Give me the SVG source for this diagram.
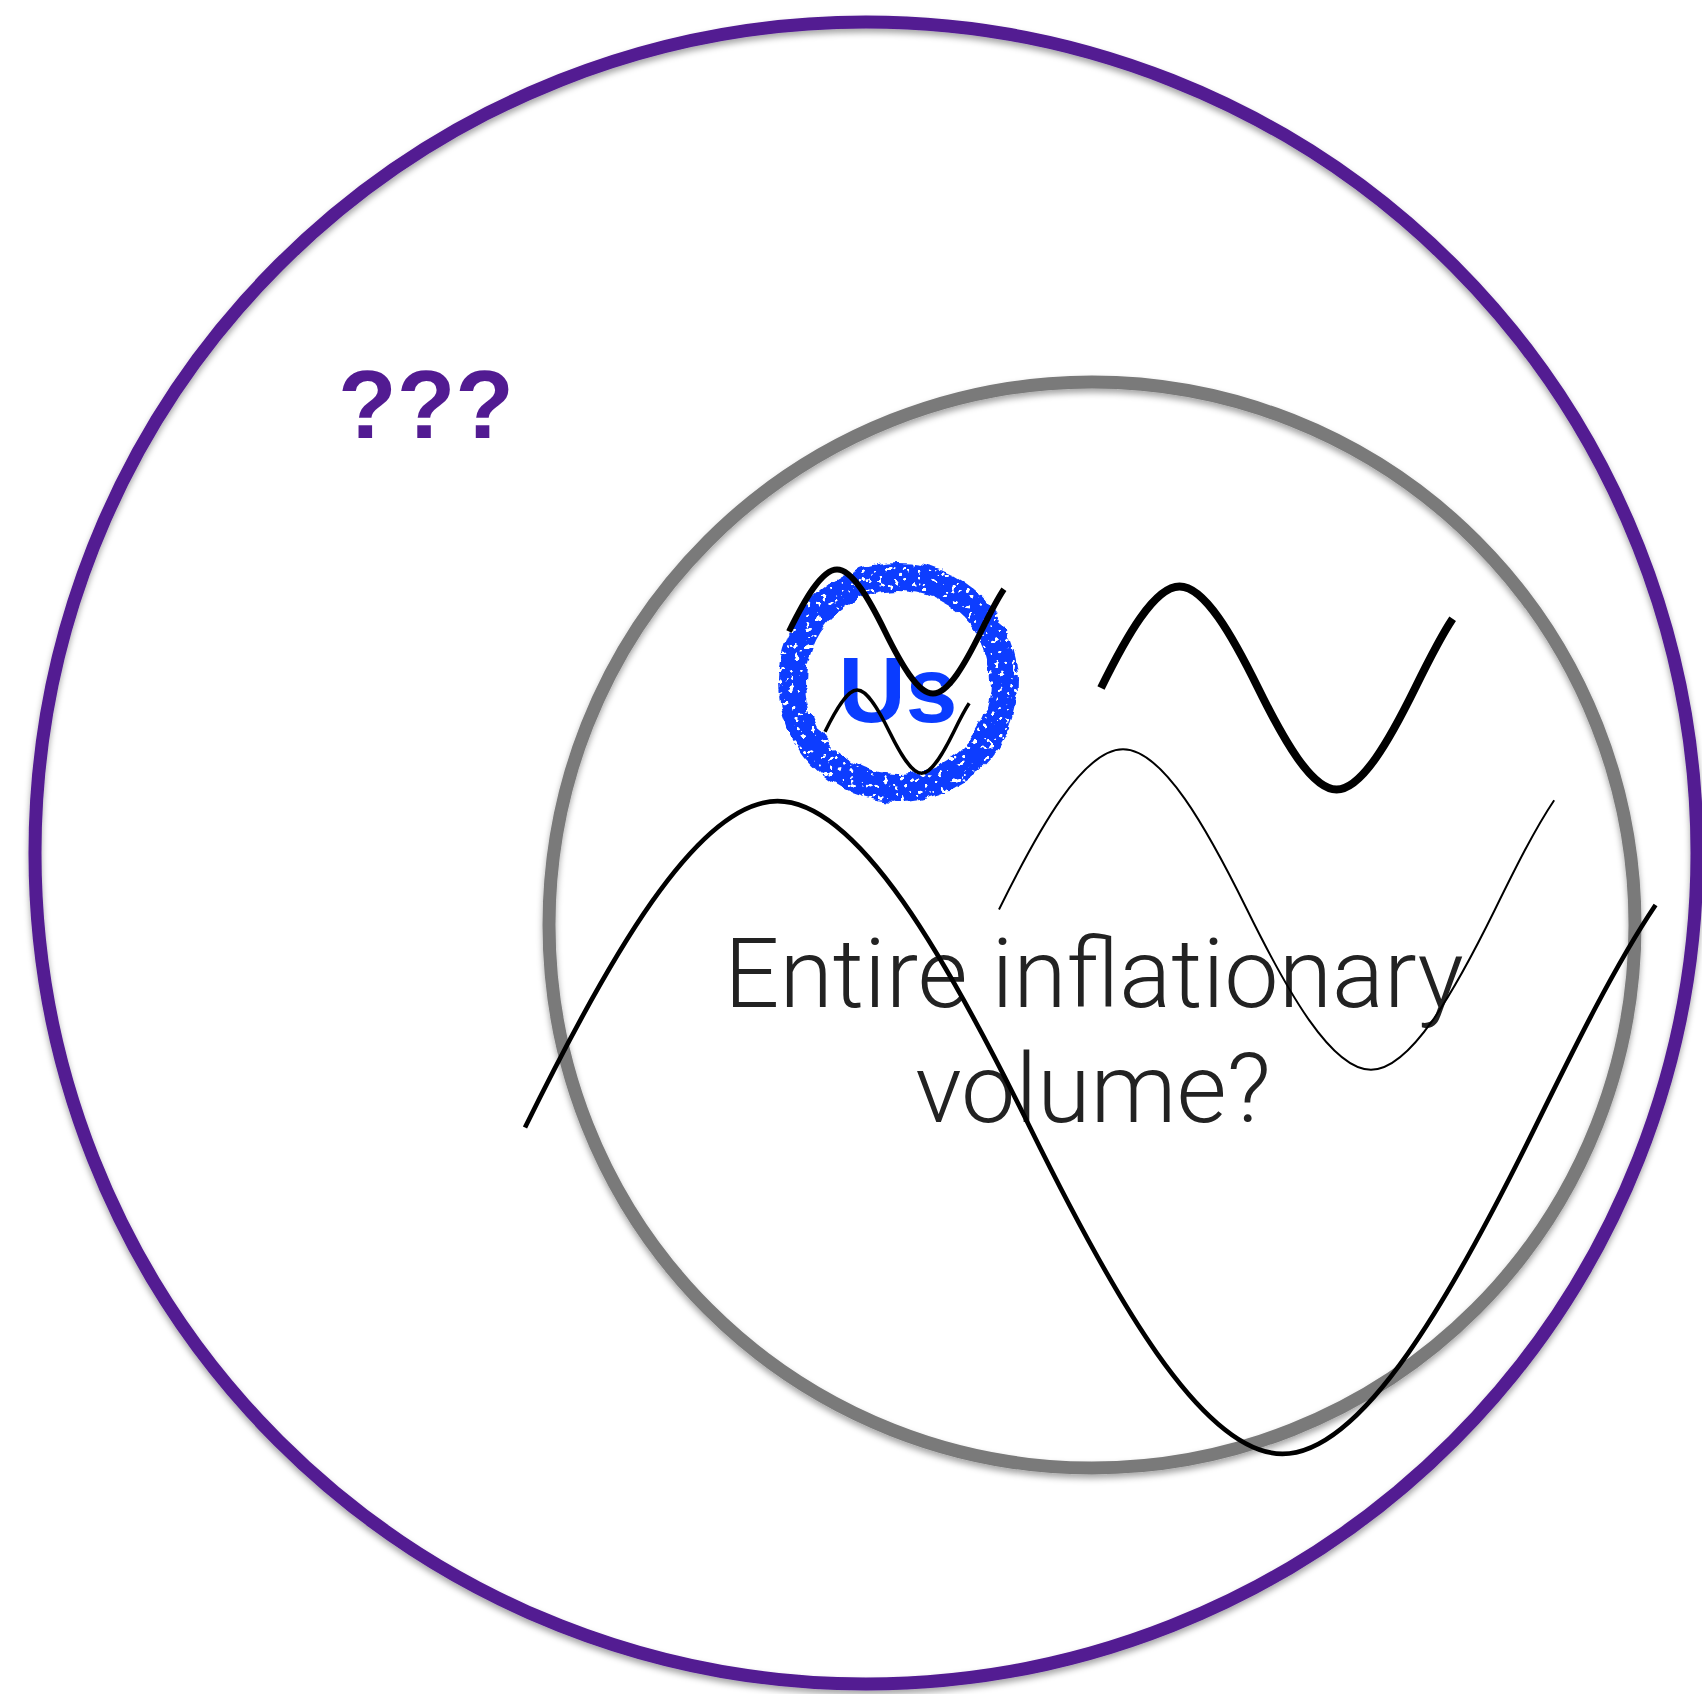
<svg xmlns="http://www.w3.org/2000/svg" xmlns:xlink="http://www.w3.org/1999/xlink" width="1702" height="1694" viewBox="0 0 1702 1694">
  <style>
    .ring { fill: none; stroke-width: 13; }
    .wave { fill: none; stroke: #000; stroke-linecap: butt; stroke-linejoin: round; }
    .bold { font-family: "Liberation Sans", Arial, sans-serif; font-weight: 700; }
    .light { font-family: Roboto, "Liberation Sans", sans-serif; font-weight: 300; fill: #222; font-size: 97px; }
  </style>
  <defs>
    <filter id="shadow" x="-10%" y="-10%" width="120%" height="120%">
      <feDropShadow dx="0" dy="4" stdDeviation="3" flood-color="#000" flood-opacity="0.35"/>
    </filter>
    <filter id="rough" x="-30%" y="-30%" width="160%" height="160%">
      <feTurbulence type="fractalNoise" baseFrequency="0.07" numOctaves="2" seed="3" result="n"/>
      <feDisplacementMap in="SourceGraphic" in2="n" scale="9" xChannelSelector="R" yChannelSelector="G" result="d"/>
      <feTurbulence type="fractalNoise" baseFrequency="0.18" numOctaves="2" seed="11" result="n2"/>
      <feColorMatrix in="n2" type="matrix" values="0 0 0 0 0  0 0 0 0 0  0 0 0 0 0  20 0 0 0 -6.2" result="holes"/>
      <feComposite in="d" in2="holes" operator="in"/>
    </filter>
    <path id="sine" d="M0,0 C51.2,-103.9 107.1,-203 157.1,-203 C207.1,-203 262.96,-103.9 314.16,0 C365.36,103.9 421.2,203 471.2,203 C521.2,203 577.1,103.9 628.3,0 C653.3,-50.75 678.3,-101.3 703.3,-138.4"/>
  </defs>
  <rect width="1702" height="1694" fill="#fff"/>

  <g id="outer-region">
    <circle class="ring" cx="866" cy="853" r="831" stroke="#521b92" filter="url(#shadow)"/>
  </g>

  <g id="inflationary-volume">
    <circle class="ring" cx="1092" cy="925" r="543" stroke="#7a7a7a" filter="url(#shadow)"/>
  </g>

  <g id="unknown">
    <text class="bold" x="338" y="438" font-size="96" fill="#521b92">???</text>
  </g>

  <g id="us">
    <circle cx="898" cy="682" r="106" fill="none" stroke="#0a3cff" stroke-width="28" filter="url(#rough)"/>
    <text class="bold" x="898" y="722" font-size="93" fill="#0a3cff" text-anchor="middle">Us</text>
  </g>

  <g id="label">
    <text class="light" x="1094" y="1007" text-anchor="middle">Entire inflationary</text>
    <text class="light" x="1093" y="1122" text-anchor="middle">volume?</text>
  </g>

  <g id="waves">
    <use xlink:href="#sine" class="wave" transform="translate(525,1127.5) scale(1.6075)" stroke-width="2.9"/>
    <use xlink:href="#sine" class="wave" transform="translate(1101,688) scale(0.5)" stroke-width="16"/>
    <use xlink:href="#sine" class="wave" transform="translate(999,909.5) scale(0.7894)" stroke-width="2.5"/>
    <use xlink:href="#sine" class="wave" transform="translate(789,631.5) scale(0.3056)" stroke-width="19.6"/>
    <use xlink:href="#sine" class="wave" transform="translate(825,731.7) scale(0.205)" stroke-width="17"/>
  </g>
</svg>
